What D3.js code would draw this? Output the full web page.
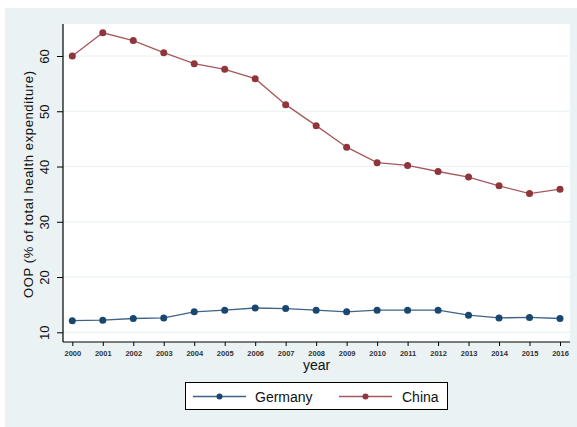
<!DOCTYPE html>
<html>
<head>
<meta charset="utf-8">
<script src="https://cdn.jsdelivr.net/npm/d3@7"></script>
<style>
  html, body { margin: 0; padding: 0; background: #ffffff; }
  svg { display: block; }
  text { font-family: "Liberation Sans", Arial, sans-serif; }
</style>
</head>
<body>
<svg id="chart" width="577" height="427"></svg>
<script>
// Out-of-pocket spending, % of total health expenditure
const years = [2000, 2001, 2002, 2003, 2004, 2005, 2006, 2007, 2008,
               2009, 2010, 2011, 2012, 2013, 2014, 2015, 2016];
const germany = [12.1, 12.2, 12.5, 12.6, 13.7, 14.0, 14.4, 14.3, 14.0,
                 13.7, 14.0, 14.0, 14.0, 13.1, 12.6, 12.7, 12.5];
const china = [60.0, 64.2, 62.8, 60.6, 58.6, 57.6, 55.9, 51.2, 47.4,
               43.5, 40.7, 40.2, 39.1, 38.1, 36.5, 35.1, 35.9];
const yTicks = [10, 20, 30, 40, 50, 60];
const seriesNames = ["Germany", "China"];

const colors = { Germany: "#1a476f", China: "#90353b" };
const lineColors = { Germany: "#3d6387", China: "#a8585d" };

const svg = d3.select("#chart");

// outer graph region
svg.append("rect")
  .attr("x", 5).attr("y", 8).attr("width", 577).attr("height", 427)
  .attr("fill", "#eaf2f3");

const plot = { left: 63, right: 570, top: 24, bottom: 342 };

svg.append("rect")
  .attr("x", plot.left).attr("y", plot.top)
  .attr("width", plot.right - plot.left).attr("height", plot.bottom - plot.top)
  .attr("fill", "#ffffff");

const x = d3.scaleLinear().domain([2000, 2016]).range([72.3, 560]);
const y = d3.scaleLinear().domain([10, 60]).range([332.3, 56]);

// horizontal grid
svg.append("g").selectAll("line").data(yTicks).join("line")
  .attr("x1", plot.left).attr("x2", plot.right)
  .attr("y1", d => y(d)).attr("y2", d => y(d))
  .attr("stroke", "#eaf2f3").attr("stroke-width", 1.2);

// y axis
const yAxis = svg.append("g")
  .attr("transform", `translate(${plot.left},0)`)
  .call(d3.axisLeft(y).tickValues(yTicks).tickSize(6).tickPadding(3).tickSizeOuter(0));
yAxis.select(".domain").remove();
yAxis.append("line")
  .attr("x1", 0).attr("x2", 0).attr("y1", plot.top).attr("y2", plot.bottom)
  .attr("stroke", "#000").attr("stroke-width", 1.2);
yAxis.selectAll(".tick line").attr("stroke", "#000").attr("stroke-width", 1);
yAxis.selectAll(".tick text")
  .attr("font-size", 13)
  .attr("fill", "#111")
  .attr("text-anchor", "middle")
  .attr("x", 0).attr("dy", 0)
  .attr("transform", "translate(-14,0) rotate(-90)")
  .attr("dominant-baseline", "auto");

// x axis
const xAxis = svg.append("g")
  .attr("transform", `translate(0,${plot.bottom})`)
  .call(d3.axisBottom(x).tickValues(years).tickFormat(d3.format("d")).tickSize(4).tickPadding(5).tickSizeOuter(0));
xAxis.select(".domain").remove();
xAxis.append("line")
  .attr("x1", plot.left).attr("x2", plot.right).attr("y1", 0).attr("y2", 0)
  .attr("stroke", "#000").attr("stroke-width", 1.2);
xAxis.selectAll(".tick line").attr("stroke", "#000");
xAxis.selectAll(".tick text")
  .attr("font-size", 7.5)
  .attr("font-weight", "bold")
  .attr("fill", "#333");

// axis titles
svg.append("text")
  .attr("transform", `translate(33,184.5) rotate(-90)`)
  .attr("text-anchor", "middle")
  .attr("font-size", 13)
  .attr("textLength", 227)
  .attr("lengthAdjust", "spacing")
  .attr("fill", "#111")
  .text("OOP (% of total health expenditure)");

svg.append("text")
  .attr("x", (plot.left + plot.right) / 2)
  .attr("y", 370)
  .attr("text-anchor", "middle")
  .attr("font-size", 14)
  .attr("fill", "#111")
  .text("year");

// series
const line = d3.line().x((d, i) => x(years[i])).y(d => y(d));
const seriesData = { Germany: germany, China: china };

seriesNames.forEach(name => {
  const vals = seriesData[name];
  svg.append("path")
    .datum(vals)
    .attr("d", line)
    .attr("fill", "none")
    .attr("stroke", lineColors[name])
    .attr("stroke-width", 1.3);
  svg.append("g").selectAll("circle").data(vals).join("circle")
    .attr("cx", (d, i) => x(years[i]))
    .attr("cy", d => y(d))
    .attr("r", 3.5)
    .attr("fill", colors[name]);
});

// legend
const legend = svg.append("g");
legend.append("rect")
  .attr("x", 185.5).attr("y", 382.5).attr("width", 262).attr("height", 27)
  .attr("fill", "#ffffff").attr("stroke", "#000").attr("stroke-width", 1);

const legendItems = [
  { name: "Germany", x0: 193, x1: 246, tx: 255 },
  { name: "China", x0: 339, x1: 392, tx: 402 }
];
legendItems.forEach(it => {
  const cy = 396.5;
  legend.append("line")
    .attr("x1", it.x0).attr("x2", it.x1).attr("y1", cy).attr("y2", cy)
    .attr("stroke", lineColors[it.name]).attr("stroke-width", 1.3);
  legend.append("circle")
    .attr("cx", (it.x0 + it.x1) / 2).attr("cy", cy).attr("r", 3)
    .attr("fill", colors[it.name]);
  legend.append("text")
    .attr("x", it.tx).attr("y", cy + 5)
    .attr("font-size", 14)
    .attr("fill", "#111")
    .text(it.name);
});
</script>
</body>
</html>
